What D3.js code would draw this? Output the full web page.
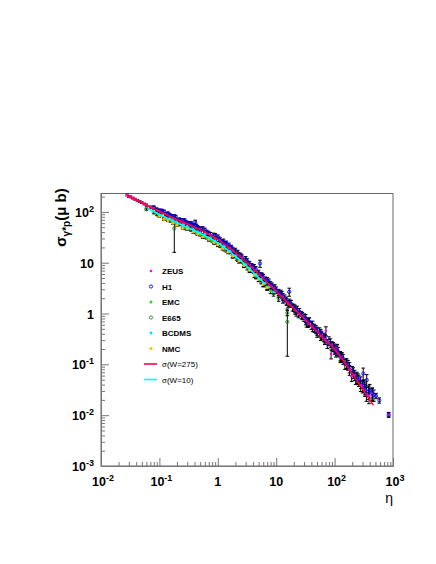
<!DOCTYPE html>
<html>
<head>
<meta charset="utf-8">
<script src="https://cdn.jsdelivr.net/npm/d3@7"></script>
<style>
  body { margin: 0; background: #fff; }
  text { font-family: "Liberation Sans", Arial, sans-serif; }
</style>
</head>
<body>
<div id="chart-container"></div>
<script>
// each point: [eta, sigma (micro barn), relative error]
const zeusData = [
  [0.028, 215, 0.04], [0.03, 200, 0.04], [0.032, 197, 0.04], [0.035, 187, 0.04], [0.038, 178, 0.04],
  [0.042, 169, 0.04], [0.046, 160, 0.04], [0.05, 152, 0.04], [0.055, 143, 0.04], [0.06, 136, 0.05],
  [0.07, 124, 0.05], [0.08, 119, 0.05], [0.09, 108, 0.05], [0.1, 104, 0.06], [0.11, 97, 0.06],
  [0.13, 92, 0.06], [0.14, 85, 0.06], [0.17, 77, 0.07], [0.19, 70, 0.07], [0.23, 64, 0.07],
  [0.25, 67, 0.07], [0.29, 58, 0.07], [0.35, 55, 0.08], [0.38, 50, 0.08], [0.43, 47, 0.08],
  [0.5, 46, 0.08], [0.6, 37.8, 0.08], [0.65, 37, 0.08], [0.75, 36, 0.09], [0.9, 30, 0.09],
  [1.1, 28, 0.1], [1.25, 23.5, 0.1], [1.3, 22.3, 0.1], [1.6, 19.9, 0.1], [1.8, 16.8, 0.11],
  [2.2, 14, 0.11], [2.5, 13.4, 0.11], [3.2, 9.3, 0.12], [3.8, 7.9, 0.12], [4, 8.0, 0.12],
  [4.2, 7.0, 0.12], [5, 5.7, 0.13], [5.8, 4.9, 0.13], [6, 5.2, 0.13], [7.5, 3.7, 0.13],
  [8, 3.35, 0.14], [9, 3.2, 0.14], [11, 2.4, 0.14], [13, 2.16, 0.15], [15, 1.7, 0.15],
  [16, 1.56, 0.15], [19, 1.33, 0.16], [21, 1.15, 0.16], [24, 0.98, 0.16], [28, 0.90, 0.16],
  [32, 0.72, 0.17], [35, 0.64, 0.17], [40, 0.585, 0.17], [42, 0.53, 0.17], [50, 0.456, 0.18],
  [58, 0.36, 0.18], [60, 0.38, 0.18], [68, 0.30, 0.18], [71, 0.457, 0.2], [87, 0.16, 0.2],
  [90, 0.234, 0.19], [100, 0.195, 0.19], [111, 0.206, 0.2], [125, 0.135, 0.2], [130, 0.143, 0.2],
  [160, 0.101, 0.21], [180, 0.078, 0.22], [196, 0.059, 0.22], [220, 0.062, 0.23], [250, 0.0525, 0.24],
  [280, 0.039, 0.25], [300, 0.037, 0.26], [330, 0.032, 0.27], [388, 0.024, 0.3], [440, 0.026, 0.28],
  [843, 0.0103, 0.1]
];
const h1Data = [
  [0.08, 124, 0.05], [0.09, 113, 0.05], [0.1, 107, 0.06], [0.11, 106, 0.06], [0.12, 102, 0.06],
  [0.13, 82, 0.06], [0.14, 94, 0.06], [0.15, 88, 0.06], [0.16, 83, 0.07], [0.18, 82, 0.07],
  [0.19, 80, 0.07], [0.2, 67, 0.07], [0.22, 71, 0.07], [0.23, 69, 0.07], [0.26, 68, 0.07],
  [0.27, 68, 0.07], [0.29, 62, 0.07], [0.3, 60, 0.08], [0.32, 52, 0.08], [0.33, 60, 0.08],
  [0.35, 59, 0.08], [0.38, 54, 0.08], [0.41, 63, 0.09], [0.43, 53, 0.08], [0.45, 50, 0.08],
  [0.48, 47, 0.08], [0.5, 42, 0.08], [0.55, 47, 0.09], [0.6, 44, 0.09], [0.65, 40, 0.09],
  [0.7, 38, 0.09], [0.78, 31.5, 0.09], [0.85, 35, 0.09], [0.9, 34, 0.1], [1.0, 32, 0.1],
  [1.05, 29, 0.1], [1.15, 24.3, 0.1], [1.2, 26, 0.1], [1.25, 26.3, 0.11], [1.35, 23.5, 0.11],
  [1.4, 24, 0.11], [1.55, 21.9, 0.11], [1.7, 19.8, 0.11], [1.8, 18.2, 0.11], [1.9, 15.4, 0.11],
  [2, 17.2, 0.12], [2.2, 15.7, 0.12], [2.4, 13.9, 0.12], [2.6, 12.7, 0.12], [2.7, 10.9, 0.12],
  [3, 11.8, 0.12], [3.2, 10.7, 0.12], [3.5, 9.4, 0.13], [3.8, 8.5, 0.13], [4, 7.3, 0.13],
  [4.2, 8.1, 0.13], [4.5, 7.4, 0.13], [5, 6.3, 0.13], [5.28, 9.66, 0.16], [5.5, 5.6, 0.13],
  [5.8, 5.5, 0.13], [6, 4.5, 0.14], [6.5, 4.6, 0.14], [7, 4.5, 0.14], [7.5, 4.2, 0.14],
  [8, 3.7, 0.14], [8.5, 3.5, 0.14], [9, 2.9, 0.15], [9.5, 3.2, 0.15], [10, 2.9, 0.15],
  [11, 2.6, 0.15], [12, 2.5, 0.15], [12.5, 2.35, 0.15], [13, 1.88, 0.15], [14, 2.0, 0.16],
  [15, 1.82, 0.16], [16.7, 2.67, 0.18], [17, 1.65, 0.16], [18, 1.56, 0.16], [20, 1.31, 0.16],
  [21, 1.25, 0.17], [22, 1.07, 0.17], [23, 1.19, 0.17], [25, 1.07, 0.17], [27, 0.945, 0.17],
  [30, 0.84, 0.17], [32, 0.81, 0.18], [33, 0.66, 0.18], [36, 0.68, 0.18], [37, 0.70, 0.18],
  [42, 0.6, 0.18], [45, 0.52, 0.18], [48, 0.49, 0.18], [50, 0.42, 0.19], [55, 0.44, 0.19],
  [58, 0.41, 0.19], [65, 0.345, 0.19], [68, 0.326, 0.19], [75, 0.256, 0.2], [80, 0.29, 0.2],
  [85, 0.265, 0.2], [95, 0.224, 0.2], [100, 0.21, 0.2], [105, 0.174, 0.2], [110, 0.19, 0.21],
  [115, 0.177, 0.21], [125, 0.148, 0.21], [135, 0.139, 0.21], [140, 0.128, 0.22], [150, 0.102, 0.22],
  [160, 0.106, 0.22], [170, 0.098, 0.22], [180, 0.088, 0.23], [200, 0.074, 0.23], [210, 0.069, 0.24],
  [230, 0.053, 0.24], [240, 0.056, 0.25], [260, 0.049, 0.25], [280, 0.045, 0.26], [309, 0.066, 0.28],
  [320, 0.039, 0.27], [330, 0.035, 0.28], [350, 0.0267, 0.3], [355, 0.049, 0.28], [380, 0.029, 0.3],
  [400, 0.031, 0.3], [440, 0.027, 0.28], [470, 0.025, 0.25], [512, 0.024, 0.12], [582, 0.0196, 0.12],
  [843, 0.0101, 0.1]
];
const emcData = [
  [0.1, 87, 0.05], [0.13, 73, 0.05], [0.14, 70, 0.05], [0.16, 65, 0.05], [0.19, 60, 0.05],
  [0.2, 59, 0.05], [0.25, 52, 0.06], [0.29, 48, 0.06], [0.32, 46, 0.06], [0.4, 42.6, 0.06],
  [0.43, 39, 0.06], [0.5, 35.4, 0.06], [0.6, 32, 0.07], [0.65, 31.5, 0.07], [0.8, 27.3, 0.07],
  [0.9, 25, 0.07], [1.0, 24.2, 0.08], [1.15, 21.5, 0.08], [1.3, 18.5, 0.08], [1.6, 16.4, 0.08],
  [1.8, 14, 0.09], [2.1, 12.3, 0.09], [2.4, 11, 0.09], [2.8, 9.0, 0.1], [3.2, 8.0, 0.1],
  [3.5, 7.4, 0.1], [4.5, 5.4, 0.11], [5, 4.8, 0.11], [6, 3.8, 0.12], [7, 3.3, 0.12],
  [8, 2.8, 0.12]
];
const e665Data = [
  [0.06, 113, 0.05], [0.08, 97, 0.05], [0.09, 89, 0.05], [0.1, 86, 0.06], [0.12, 74, 0.06],
  [0.15, 68, 0.06], [0.18, 71, 0.06], [0.18, 47, 0.66], [0.22, 57, 0.06], [0.28, 48, 0.07],
  [0.35, 44, 0.07], [0.45, 38, 0.07], [0.55, 34.5, 0.08], [0.7, 29, 0.08], [0.85, 26, 0.08],
  [1.1, 21.8, 0.09], [1.4, 17.8, 0.09], [1.8, 13.8, 0.09], [2.2, 11.8, 0.1], [2.8, 9.4, 0.1],
  [3.5, 7.3, 0.1], [4.5, 5.5, 0.11], [5.5, 4.3, 0.11], [7, 3.3, 0.12], [9, 2.5, 0.12],
  [11, 2.0, 0.13], [15.5, 1.03, 0.12], [15.5, 0.687, 0.79]
];
const bcdmsData = [
  [0.15, 74, 0.04], [0.17, 68, 0.04], [0.2, 62, 0.04], [0.25, 56, 0.04], [0.3, 52, 0.04],
  [0.38, 45, 0.04], [0.45, 41, 0.05], [0.5, 39, 0.05], [0.6, 36, 0.05], [0.75, 31, 0.05],
  [0.9, 27, 0.05], [1.1, 23.5, 0.06], [1.3, 21, 0.06], [1.6, 17, 0.06], [2, 13.4, 0.06],
  [2.5, 11, 0.07], [3, 9.2, 0.07], [3.5, 7.8, 0.07], [4.5, 5.9, 0.08], [5.5, 4.7, 0.08],
  [6.5, 3.9, 0.08], [7.5, 3.3, 0.08], [9, 2.66, 0.09]
];
const nmcData = [
  [0.1, 82, 0.05], [0.12, 72, 0.05], [0.14, 68, 0.05], [0.17, 60, 0.05], [0.2, 55, 0.05],
  [0.25, 49, 0.06], [0.3, 46, 0.06], [0.38, 40, 0.06], [0.45, 36.5, 0.06], [0.55, 32.5, 0.07],
  [0.7, 29, 0.07], [0.85, 25, 0.07], [1, 22.5, 0.08], [1.2, 19.3, 0.08], [1.5, 16.3, 0.08],
  [1.8, 13.5, 0.09], [2.3, 10.8, 0.09], [2.8, 8.8, 0.09], [3.5, 7.1, 0.1], [4.2, 5.7, 0.1],
  [5, 4.7, 0.1], [6, 3.8, 0.11], [7, 3.26, 0.11]
];

// model curves
const etaW275 = [0.028, 0.04, 0.063, 0.1, 0.158, 0.251, 0.398, 0.631, 1, 1.585, 2.512, 3.98,
  6.31, 10, 15.85, 25.1, 39.8, 63.1, 100, 158, 251, 398, 460];
const sigmaW275 = [212, 173, 132, 102, 79.4, 63.1, 50.1, 38.9, 28.8, 19.5, 12.6, 7.76,
  4.57, 2.75, 1.62, 0.977, 0.575, 0.339, 0.20, 0.0977, 0.0452, 0.0202, 0.0158];
const etaW10 = [0.063, 0.158, 0.398, 1, 2.512, 6.31];
const sigmaW10 = [117, 69, 42.7, 24.5, 10.7, 3.9];

// tick labels
const xTickValues = [0.01, 0.1, 1, 10, 100, 1000];
const xTickLabels = [["10", "-2"], ["10", "-1"], ["1", ""], ["10", ""], ["10", "2"], ["10", "3"]];
const yTickValues = [0.001, 0.01, 0.1, 1, 10, 100];
const yTickLabels = [["10", "-3"], ["10", "-2"], ["10", "-1"], ["1", ""], ["10", ""], ["10", "2"]];

const legendNames = ["ZEUS", "H1", "EMC", "E665", "BCDMS", "NMC", "\u03c3(W=275)", "\u03c3(W=10)"];

const width = 436;
const height = 564;
const margin = { top: 193.5, right: 43, bottom: 98, left: 101 };

const svg = d3.select("#chart-container")
  .append("svg")
  .attr("width", width)
  .attr("height", height);

svg.append("rect").attr("width", width).attr("height", height).attr("fill", "#fff");

const x = d3.scaleLog().domain([0.01, 1000]).range([margin.left, width - margin.right]);
const y = d3.scaleLog().domain([0.001, 230]).range([height - margin.bottom, margin.top]);

// minor tick positions 2..9 in every decade
function minorTicks(values) {
  const out = [];
  values.slice(0, -1).forEach(d => { for (let k = 2; k <= 9; k++) out.push(k * d); });
  return out;
}

const axisColor = "#777";

// frame
svg.append("rect")
  .attr("x", margin.left).attr("y", margin.top)
  .attr("width", width - margin.right - margin.left)
  .attr("height", height - margin.bottom - margin.top)
  .attr("fill", "none").attr("stroke", "#666").attr("stroke-width", 1);

// x axis ticks (pointing inward)
const gx = svg.append("g").attr("transform", `translate(0,${height - margin.bottom})`);
gx.append("g").call(d3.axisBottom(x).tickValues(minorTicks(xTickValues)).tickSize(-4).tickSizeOuter(0).tickFormat(""));
gx.append("g").call(d3.axisBottom(x).tickValues(xTickValues).tickSize(-8).tickSizeOuter(0).tickFormat(""));
gx.selectAll("path, line").attr("stroke", axisColor);

// y axis ticks
const gy = svg.append("g").attr("transform", `translate(${margin.left},0)`);
gy.append("g").call(d3.axisLeft(y).tickValues(minorTicks(yTickValues.concat([1000]))).tickSize(-4).tickSizeOuter(0).tickFormat(""));
gy.append("g").call(d3.axisLeft(y).tickValues(yTickValues).tickSize(-8).tickSizeOuter(0).tickFormat(""));
gy.selectAll(".tick").filter(d => d > 230).remove();
gy.selectAll("path, line").attr("stroke", axisColor);

// tick labels with superscripts
function addLabel(sel, lab) {
  sel.append("tspan").text(lab[0]);
  if (lab[1]) sel.append("tspan").attr("dy", -5).attr("font-size", 9).text(lab[1]);
}
xTickValues.forEach((v, i) => {
  const t = svg.append("text")
    .attr("x", x(v) + (xTickLabels[i][1] ? 2 : 0)).attr("y", height - margin.bottom + 20)
    .attr("text-anchor", "middle").attr("font-size", 12.5).attr("font-weight", "bold");
  addLabel(t, xTickLabels[i]);
});
yTickValues.forEach((v, i) => {
  const t = svg.append("text")
    .attr("x", margin.left - 7).attr("y", y(v) + 5)
    .attr("text-anchor", "end").attr("font-size", 12.5).attr("font-weight", "bold");
  addLabel(t, yTickLabels[i]);
});

// axis titles
svg.append("text")
  .attr("x", width - margin.right).attr("y", height - margin.bottom + 37)
  .attr("text-anchor", "end").attr("font-size", 14).text("\u03b7");

const yt = svg.append("text")
  .attr("transform", `translate(66,${margin.top + 24}) rotate(-90)`)
  .attr("text-anchor", "middle").attr("font-size", 15).attr("font-weight", "bold");
yt.append("tspan").text("\u03c3");
yt.append("tspan").attr("dy", 4).attr("font-size", 10).text("\u03b3*p");
yt.append("tspan").attr("dy", -4).text("(\u03bc b)");

// series styles
const series = [
  { name: "ZEUS", data: zeusData, color: "#ff00ff", shape: "dot", r: 1.3 },
  { name: "H1", data: h1Data, color: "#0000ff", shape: "open", r: 1.6 },
  { name: "EMC", data: emcData, color: "#33cc33", shape: "dot", r: 1.5 },
  { name: "E665", data: e665Data, color: "#228822", shape: "open", r: 1.6 },
  { name: "BCDMS", data: bcdmsData, color: "#00e5ff", shape: "dot", r: 1.4 },
  { name: "NMC", data: nmcData, color: "#ffbb00", shape: "dot", r: 1.5 }
];

const yMin = 0.001;
const plot = svg.append("g");

// error bars first
series.forEach(s => {
  const g = plot.append("g").attr("stroke", "#000").attr("stroke-width", 1);
  s.data.forEach(d => {
    const lo = Math.max(d[1] * (1 - d[2]), yMin);
    const hi = d[1] * (1 + d[2]);
    const cx = x(d[0]);
    g.append("line").attr("x1", cx).attr("x2", cx).attr("y1", y(lo)).attr("y2", y(hi));
    g.append("line").attr("x1", cx - 1.8).attr("x2", cx + 1.8).attr("y1", y(lo)).attr("y2", y(lo));
    g.append("line").attr("x1", cx - 1.8).attr("x2", cx + 1.8).attr("y1", y(hi)).attr("y2", y(hi));
  });
});

// markers
function drawMarker(g, s, cx, cy) {
  const c = g.append("circle").attr("cx", cx).attr("cy", cy).attr("r", s.r);
  if (s.shape === "open") c.attr("fill", "none").attr("stroke", s.color).attr("stroke-width", 0.9);
  else c.attr("fill", s.color);
}
series.forEach(s => {
  const g = plot.append("g");
  s.data.forEach(d => drawMarker(g, s, x(d[0]), y(d[1])));
});

// model curves on top
const line = d3.line().curve(d3.curveMonotoneX);
plot.append("path")
  .attr("d", line(etaW10.map((e, i) => [x(e), y(sigmaW10[i])])))
  .attr("fill", "none").attr("stroke", "#00ffff").attr("stroke-width", 1.6);
plot.append("path")
  .attr("d", line(etaW275.map((e, i) => [x(e), y(sigmaW275[i])])))
  .attr("fill", "none").attr("stroke", "#ff0040").attr("stroke-width", 1.6);

// legend
const legend = svg.append("g");
const legendColors = ["#ff0040", "#00ffff"];
legendNames.forEach((name, i) => {
  const ly = 271 + i * 15.5;
  if (i < series.length) {
    drawMarker(legend, series[i], 151, ly);
  } else {
    legend.append("line").attr("x1", 144).attr("x2", 157).attr("y1", ly).attr("y2", ly)
      .attr("stroke", legendColors[i - series.length]).attr("stroke-width", 1.6);
  }
  legend.append("text")
    .attr("x", 162).attr("y", ly + 3)
    .attr("font-size", 8)
    .attr("font-weight", i < series.length ? "bold" : "normal")
    .text(name);
});
</script>
</body>
</html>
